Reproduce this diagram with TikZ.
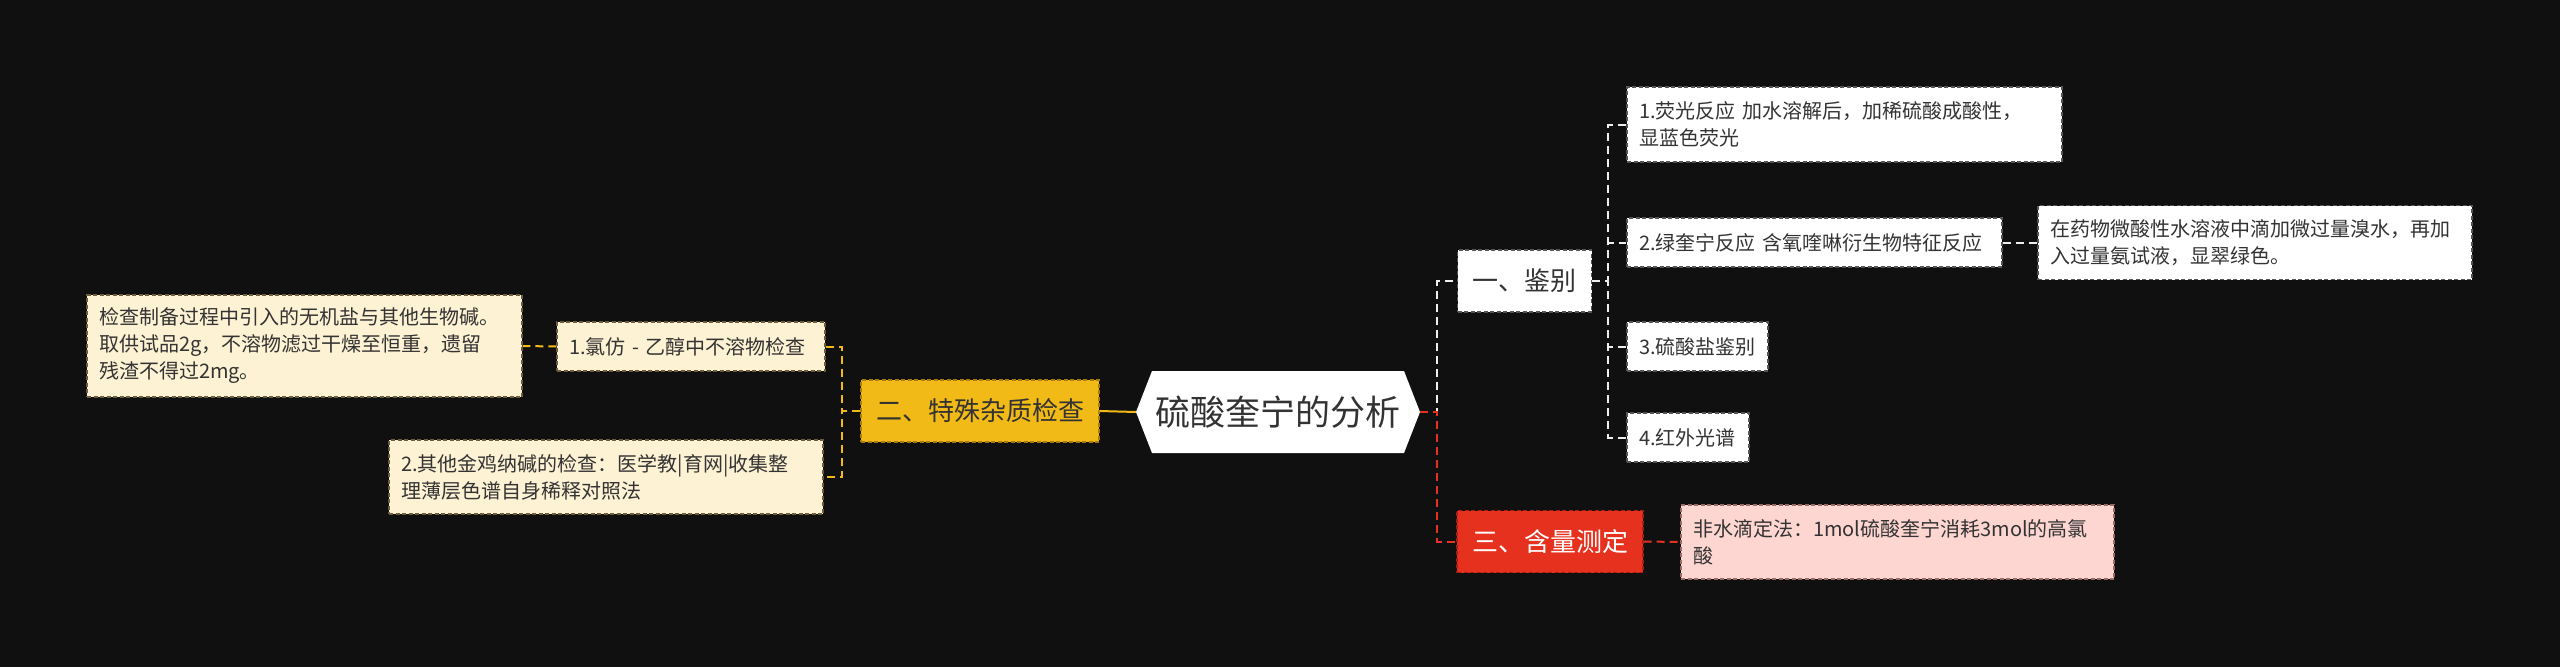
\documentclass[tikz,border=0pt]{standalone}
\usepackage{fontspec}
\setmainfont{Noto Sans CJK SC}
\definecolor{bg}{HTML}{101010}
\definecolor{txt}{HTML}{333333}
\definecolor{ylw}{HTML}{F2BA16}
\definecolor{ylwd}{HTML}{A87C05}
\definecolor{red1}{HTML}{E5311E}
\definecolor{red1d}{HTML}{A31F12}
\definecolor{cream}{HTML}{FEF2D4}
\definecolor{creamd}{HTML}{6E5D3C}
\definecolor{pink}{HTML}{FDD6D1}
\definecolor{pinkd}{HTML}{9A6A66}
\definecolor{wbord}{HTML}{555555}
\definecolor{wline}{HTML}{EEEEEE}
\begin{document}
\begin{tikzpicture}[x=1pt,y=-1pt,
  box/.style={line width=1.4pt, dash pattern=on 4pt off 2.5pt, inner xsep=12pt, inner ysep=0pt,
    align=left, font=\fontsize{20}{27}\selectfont, text=txt},
  wbox/.style={box, fill=white, draw=wbord},
  cbox/.style={box, fill=cream, draw=creamd},
  pbox/.style={box, fill=pink, draw=pinkd},
  lvone/.style={line width=1.4pt, dash pattern=on 4pt off 2.5pt, inner xsep=15pt, inner ysep=0pt,
    minimum height=62pt, font=\fontsize{26}{30}\selectfont},
  conn/.style={line width=2pt, dash pattern=on 8pt off 5pt},
  wconn/.style={conn, draw=wline},
  rconn/.style={conn, draw=red1},
  yconn/.style={conn, draw=ylw}]
\fill[bg] (0,0) rectangle (2560,667);
\useasboundingbox (0,0) rectangle (2560,667);

% root
\fill[white] (1136,412) -- (1152,371) -- (1404,371) -- (1420,412) -- (1404,453) -- (1152,453) -- cycle;
\node[minimum width=284pt, minimum height=82pt, inner sep=0pt, text=txt,
  font=\fontsize{35}{40}\selectfont] (root) at (1278,412) {硫酸奎宁的分析};

% level 1
\node[lvone, fill=ylw, draw=ylwd, text=txt] (L1) at (980,411) {二、特殊杂质检查};
\node[lvone, fill=white, draw=wbord, text=txt] (R1) at (1524.5,281) {一、鉴别};
\node[lvone, fill=red1, draw=red1d, text=white] (R3) at (1550,541.5) {三、含量测定};

% right level 2
\node[wbox, text width=411pt, minimum height=75pt] (a1) at (1844.5,124.5)
  {1.荧光反应 加水溶解后，加稀硫酸成酸性，\\显蓝色荧光};
\node[wbox, text width=351pt, minimum height=49pt] (a2) at (1814.5,242.5)
  {2.绿奎宁反应 含氧喹啉衍生物特征反应};
\node[wbox, text width=410pt, minimum height=74pt] (a2c) at (2255,242.5)
  {在药物微酸性水溶液中滴加微过量溴水，再加\\入过量氨试液，显翠绿色。};
\node[wbox, text width=117pt, minimum height=49pt] (a3) at (1697.5,346.5)
  {3.硫酸盐鉴别};
\node[wbox, text width=98pt, minimum height=49pt] (a4) at (1688,437.5)
  {4.红外光谱};
\node[pbox, text width=409pt, minimum height=74pt] (b1) at (1897.5,542)
  {非水滴定法：1mol硫酸奎宁消耗3mol的高氯\\酸};

% left level 2
\node[cbox, text width=244pt, minimum height=49pt] (c1) at (691,346.5)
  {1.氯仿 - 乙醇中不溶物检查};
\node[cbox, text width=411pt, minimum height=102pt] (c1c) at (304.5,346)
  {检查制备过程中引入的无机盐与其他生物碱。\\取供试品2g，不溶物滤过干燥至恒重，遗留\\残渣不得过2mg。};
\node[cbox, text width=410pt, minimum height=74pt] (c2) at (606,477)
  {2.其他金鸡纳碱的检查：医学教|育网|收集整\\理薄层色谱自身稀释对照法};

% connectors
\draw[wconn] (root.east) -- ++(17,0) |- (R1.west);
\draw[rconn] (root.east) -- ++(17,0) |- (R3.west);
\draw[ylw, line width=2pt] (root.west) -- (L1.east);
\foreach \n in {a1,a2,a3,a4} {
  \draw[wconn] (R1.east) -- ++(16,0) |- (\n.west);
}
\draw[wconn] (a2.east) -- (a2c.west);
\draw[rconn] (R3.east) -- (b1.west);
\draw[yconn] (L1.west) -- ++(-18,0) |- (c1.east);
\draw[yconn] (L1.west) -- ++(-18,0) |- (c2.east);
\draw[yconn] (c1.west) -- (c1c.east);
\end{tikzpicture}
\end{document}
